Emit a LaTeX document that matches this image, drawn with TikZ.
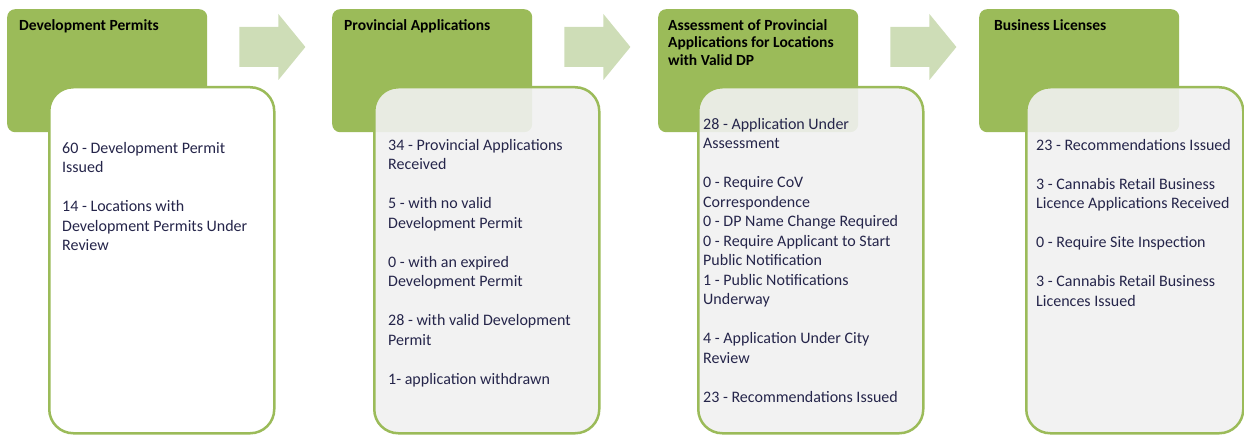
\documentclass[tikz,border=0pt]{standalone}
\usepackage{fontspec}
\setmainfont{Carlito}
\usetikzlibrary{positioning,calc}
\definecolor{stagegreen}{HTML}{9BBB59}
\definecolor{arrowgreen}{HTML}{CEDDB7}
\definecolor{panelgrey}{HTML}{F1F1F1}
\definecolor{bodyink}{HTML}{25254A}
\tikzset{
  header/.style={fill=stagegreen,rounded corners=8pt,anchor=north west,
    minimum width=200pt,minimum height=123pt,inner sep=0pt},
  panel/.style={draw=stagegreen,line width=2.5pt,rounded corners=24pt,
    anchor=north west,minimum width=225pt,minimum height=346pt,inner sep=0pt},
  htext/.style={anchor=north west,align=left,inner sep=0pt,
    font=\bfseries\fontsize{15.5}{17.5}\selectfont},
  btext/.style={anchor=north west,align=left,inner sep=0pt,text=bodyink,
    font=\fontsize{16}{19.5}\selectfont},
  stagearrow/.style={fill=arrowgreen}
}
\begin{document}
\begin{tikzpicture}[x=1pt,y=-1pt]
  \useasboundingbox (0,0) rectangle (1244,438);
  % stage headers
  \node[header] (hdrA) at (7,9) {};
  \node[header] (hdrB) at (332,9) {};
  \node[header] (hdrC) at (658,9) {};
  \node[header] (hdrD) at (979,9) {};
  % arrows between stages
  \foreach \h in {hdrA,hdrB,hdrC}
    \fill[stagearrow] ($(\h.north east)+(32,18)$) -- ++(39,0) -- ++(0,-13)
      -- ++(27,33) -- ++(-27,33) -- ++(0,-13) -- ++(-39,0) -- cycle;
  % panels
  \node[panel,fill=white] (panelA) at (48,86) {};
  \node[panel,fill=panelgrey,fill opacity=0.9] (panelB) at (373,86) {};
  \node[panel,fill=panelgrey,fill opacity=0.9] (panelC) at (697,86) {};
  \node[panel,fill=panelgrey,fill opacity=0.9,minimum width=217pt] (panelD) at (1025,86) {};
  % header texts
  \node[htext] (titleA) at (19,19) {Development Permits};
  \node[htext] (titleB) at (344,19) {Provincial Applications};
  \node[htext] (titleC) at (668,19) {Assessment of Provincial\\Applications for Locations\\with Valid DP};
  \node[htext] (titleD) at (994,19) {Business Licenses};
  % panel texts
  \node[btext] (factsA) at (62,142) {60 - Development Permit\\Issued\\[19.5pt]
    14 - Locations with\\Development Permits Under\\Review};
  \node[btext] (factsB) at (388,139) {34 - Provincial Applications\\Received\\[19.5pt]
    5 - with no valid\\Development Permit\\[19.5pt]
    0 - with an expired\\Development Permit\\[19.5pt]
    28 - with valid Development\\Permit\\[19.5pt]
    1- application withdrawn};
  \node[btext] (factsC) at (703,118) {28 - Application Under\\Assessment\\[19.5pt]
    0 - Require CoV\\Correspondence\\0 - DP Name Change Required\\
    0 - Require Applicant to Start\\Public Notification\\
    1 - Public Notifications\\Underway\\[19.5pt]
    4 - Application Under City\\Review\\[19.5pt]
    23 - Recommendations Issued};
  \node[btext] (factsD) at (1036,139) {23 - Recommendations Issued\\[19.5pt]
    3 - Cannabis Retail Business\\Licence Applications Received\\[19.5pt]
    0 - Require Site Inspection\\[19.5pt]
    3 - Cannabis Retail Business\\Licences Issued};
\end{tikzpicture}
\end{document}
